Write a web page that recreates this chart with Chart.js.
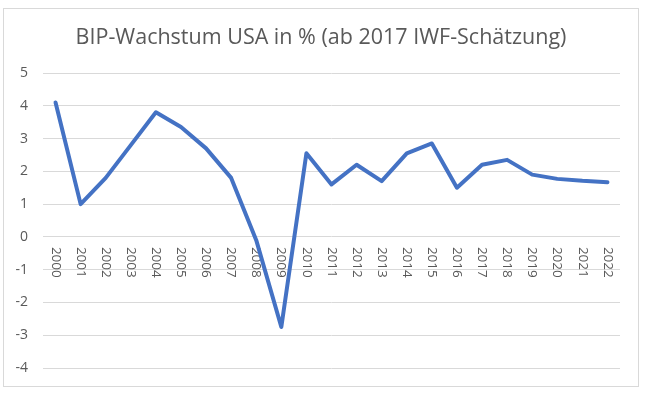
<!DOCTYPE html>
<html>
<head>
<meta charset="utf-8">
<script src="https://cdn.jsdelivr.net/npm/chart.js@4/dist/chart.umd.min.js"></script>
<style>
  html, body { margin: 0; padding: 0; background: #fff; }
  .frame { position: absolute; left: 3px; top: 8px; width: 636px; height: 379px; box-sizing: border-box; border: 1px solid #d9d9d9; }
  .wrap { position: absolute; left: 0; top: 0; width: 646px; height: 396px; }
</style>
</head>
<body>
<div class="frame"></div>
<div class="wrap"><canvas id="chart" width="646" height="396"></canvas></div>
<script>
// Data
var title = 'BIP-Wachstum USA in % (ab 2017 IWF-Schätzung)'
var years = ['2000', '2001', '2002', '2003', '2004', '2005', '2006', '2007', '2008', '2009', '2010', '2011',
    '2012', '2013', '2014', '2015', '2016', '2017', '2018', '2019', '2020', '2021', '2022']
var growth = [4.1, 1.0, 1.8, 2.8, 3.8, 3.35, 2.7, 1.8, -0.1, -2.75, 2.55, 1.6,
    2.2, 1.7, 2.55, 2.85, 1.5, 2.2, 2.35, 1.9, 1.77, 1.71, 1.67]
var yTicks = [-4, -3, -2, -1, 0, 1, 2, 3, 4, 5]

var textColor = '#595959'

// Title drawn centred over the frame
const titlePlugin = {
    id: 'titleText',
    afterDraw(chart) {
        const ctx = chart.ctx
        ctx.save()
        ctx.fillStyle = textColor
        ctx.font = '21.5px "Open Sans"'
        ctx.textAlign = 'center'
        ctx.textBaseline = 'alphabetic'
        ctx.fillText(title, 321, 44)
        ctx.restore()
    }
}

// Year labels sit just under the zero line, rotated top-to-bottom
const yearLabels = {
    id: 'yearLabels',
    beforeDatasetsDraw(chart) {
        const ctx = chart.ctx
        const xs = chart.scales.x
        const y0 = chart.scales.y.getPixelForValue(0) + 10
        ctx.save()
        ctx.fillStyle = textColor
        ctx.font = '13.5px "Open Sans"'
        ctx.textAlign = 'left'
        ctx.textBaseline = 'middle'
        years.forEach((label, i) => {
            ctx.save()
            ctx.translate(xs.getPixelForValue(i), y0)
            ctx.rotate(Math.PI / 2)
            ctx.fillText(label, 0, 0)
            ctx.restore()
        })
        ctx.restore()
    }
}

new Chart(document.getElementById('chart'), {
    type: 'line',
    data: {
        labels: years,
        datasets: [{
            data: growth,
            borderColor: '#4472C4',
            borderWidth: 4,
            pointRadius: 0,
            tension: 0,
            borderJoinStyle: 'round',
            borderCapStyle: 'round'
        }]
    },
    options: {
        responsive: false,
        animation: false,
        layout: { padding: { top: 73, right: 26, bottom: 28, left: 0 } },
        plugins: {
            legend: { display: false },
            title: { display: false },
            tooltip: { enabled: false }
        },
        scales: {
            x: {
                display: false,
                offset: true
            },
            y: {
                min: -4,
                max: 5,
                afterBuildTicks: scale => { scale.ticks = yTicks.map(v => ({ value: v })) },
                afterFit: scale => { scale.width = 43 },
                border: { display: false },
                grid: { color: '#d9d9d9', lineWidth: 1, drawTicks: false },
                ticks: {
                    color: textColor,
                    padding: 15,
                    font: { family: 'Open Sans', size: 14 }
                }
            }
        }
    },
    plugins: [titlePlugin, yearLabels]
})
</script>
</body>
</html>
